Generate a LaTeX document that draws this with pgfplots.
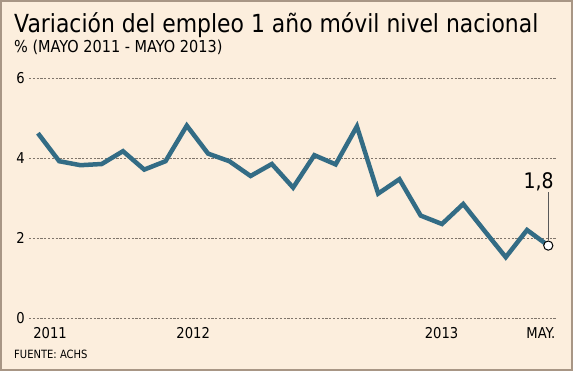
\documentclass[border=0pt]{standalone}
\usepackage{pgfplots}
\pgfplotsset{compat=1.18}
\usepackage{fontspec}
\setmainfont{DejaVu Sans}[FakeStretch=0.88]
\definecolor{bg}{HTML}{FCEEDD}
\definecolor{framec}{HTML}{A89685}
\definecolor{linec}{HTML}{336C85}
\definecolor{gridc}{HTML}{7F756B}
\begin{document}
\begin{tikzpicture}
\path[use as bounding box] (0bp,0bp) rectangle (573bp,371bp);
\fill[bg] (0bp,0bp) rectangle (573bp,371bp);
\draw[framec, line width=2.2bp] (1.1bp,1.1bp) rectangle (571.9bp,369.9bp);
\node[anchor=base west, inner sep=0pt, font=\fontsize{25}{27}\selectfont] at (14bp,338bp) {Variación del empleo 1 año móvil nivel nacional};
\node[anchor=base west, inner sep=0pt, font=\fontsize{16.5}{18}\selectfont] at (14bp,318bp) {\% (MAYO 2011 - MAYO 2013)};
\node[anchor=base west, inner sep=0pt, font=\fontsize{11.4}{13}\selectfont] at (14bp,13bp) {FUENTE: ACHS};
\begin{axis}[at={(29bp,53bp)}, anchor=south west, scale only axis,
  width=528bp, height=240bp,
  xmin=-0.42, xmax=24.41, ymin=0, ymax=6,
  ytick={0,2,4,6},
  xtick={0.57,7.3,18.98,23.65}, xticklabels={2011,2012,2013,MAY.},
  ymajorgrids,
  major grid style={gridc, dash pattern=on 2.2bp off 1.6bp, line width=0.9bp},
  axis line style={draw=none}, tick style={draw=none}, clip=false,
  ticklabel style={font=\fontsize{15}{17}\selectfont},
  yticklabel style={inner sep=0pt, xshift=-4bp},
  xticklabel style={inner sep=0pt, yshift=-9bp},
  /pgf/number format/assume math mode=true]
\addplot[linec, line width=4.5bp, line join=miter, miter limit=4] coordinates {
(0,4.62) (1,3.92) (2,3.82) (3,3.85) (4,4.17) (5,3.71) (6,3.92) (7,4.81)
(8,4.11) (9,3.92) (10,3.55) (11,3.85) (12,3.26) (13,4.07) (14,3.84) (15,4.79)
(16,3.11) (17,3.47) (18,2.56) (19,2.35) (20,2.85) (21,2.18) (22,1.52) (23,2.20) (24,1.81)};
\draw[black!65, line width=0.8bp] (axis cs:24,1.95) -- (axis cs:24,3.15);
\addplot[only marks, mark=*, mark size=4.6bp, mark options={fill=white, draw=black, line width=1bp}] coordinates {(24,1.81)};
\node[font=\fontsize{21.5}{23}\selectfont, anchor=base, inner sep=0pt] at (axis cs:23.55,3.23) {1,8};
\end{axis}
\end{tikzpicture}
\end{document}
